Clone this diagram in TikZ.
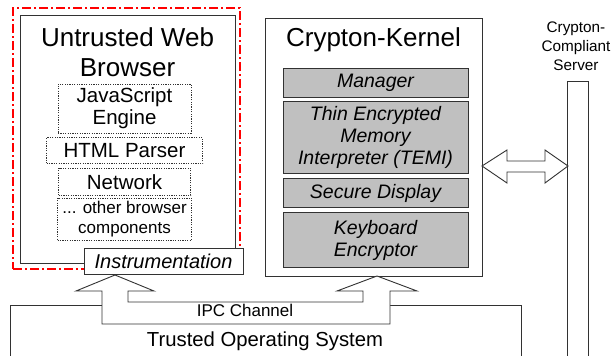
\documentclass[tikz,border=0pt]{standalone}
\usepackage{fontspec}
\setmainfont{Liberation Sans}
\usetikzlibrary{positioning}
\definecolor{partgray}{RGB}{192,192,192}
\definecolor{linegray}{RGB}{50,50,50}

\begin{document}
\begin{tikzpicture}[x=1pt, y=-1pt, line width=0.9pt, draw=linegray,
    box/.style={shape=rectangle, draw=linegray, inner sep=0pt, align=center},
    browserpart/.style={box, line width=0.7pt, dash pattern=on 1.2pt off 1.2pt,
        font=\fontsize{20.5}{22}\selectfont},
    kernelpart/.style={box, fill=partgray, minimum width=185pt,
        font=\fontsize{19.5}{22}\selectfont\itshape},
    pipe/.style={draw=linegray, fill=white, line join=miter}]
    \useasboundingbox (0,0) rectangle (616,356);
    % untrusted side
    \node[box, draw=red, line width=2pt, dash pattern=on 9pt off 3pt on 2pt off 3pt,
        minimum width=227pt, minimum height=261pt] (trustzone) at (126.5,138.5) {};
    \node[box, fill=white, minimum width=215pt, minimum height=248pt] (browser) at (127.5,139) {};
    \node[align=center, font=\fontsize{26}{30}\selectfont] (browsertitle) at (127.5,52)
        {Untrusted Web\\Browser};
    \node[browserpart, minimum width=133pt, minimum height=49pt] (js) at (124.5,108.5)
        {JavaScript\\Engine};
    \node[browserpart, minimum width=156pt, minimum height=26pt, below=4pt of js] (html)
        {HTML Parser};
    \node[browserpart, minimum width=132pt, minimum height=27pt, below=4pt of html] (net)
        {Network};
    \node[browserpart, minimum width=134pt, minimum height=42pt, below=2pt of net,
        font=\fontsize{17}{20}\selectfont] (others) {... other browser\\components};
    \node[box, fill=white, minimum width=159pt, minimum height=26pt,
        font=\fontsize{20}{22}\selectfont\itshape] (instr) at (163.5,261) {Instrumentation};
    % kernel
    \node[box, minimum width=217pt, minimum height=258pt] (kernel) at (373.5,147) {};
    \node[font=\fontsize{26}{30}\selectfont] (kerneltitle) at (373.5,40) {Crypton-Kernel};
    \node[kernelpart, minimum height=29pt] (manager) at (375.5,82.5) {Manager};
    \node[kernelpart, minimum height=72pt, below=4pt of manager] (temi)
        {Thin Encrypted\\Memory\\Interpreter (TEMI)};
    \node[kernelpart, minimum height=29pt, below=4pt of temi] (display) {Secure Display};
    \node[kernelpart, minimum height=55pt, below=4pt of display] (keyboard)
        {Keyboard\\Encryptor};
    % server
    \node[align=center, font=\fontsize{15.3}{19}\selectfont] (serverlabel) at (576,46)
        {Crypton-\\Compliant\\Server};
    \draw (567,360) -- (567,81) -- (588,81) -- (588,360);
    % trusted os
    \draw (10,360) -- (10,305) -- (521,305) -- (521,360);
    \node[font=\fontsize{20.3}{22}\selectfont] (os) at (265,341) {Trusted Operating System};
    % ipc channel
    \coordinate (ipcL) at (115,275);
    \coordinate (ipcR) at (377,276);
    \draw[pipe] (ipcL) -- (154,291) -- (128,291) -- (128,302) -- (363,302) -- (363,291)
        -- (337,291) -- (ipcR) -- (417,291) -- (390,291) -- (390,324) -- (102,324)
        -- (102,291) -- (76,291) -- cycle;
    \node[font=\fontsize{17}{20}\selectfont] (ipc) at (245,310.5) {IPC Channel};
    % kernel <-> server
    \coordinate (netL) at (482,166);
    \coordinate (netR) at (568,166);
    \draw[pipe] (netL) -- (507,150) -- (507,161) -- (545,161) -- (545,150) -- (netR)
        -- (545,183) -- (545,172) -- (507,172) -- (507,183) -- cycle;
\end{tikzpicture}
\end{document}
